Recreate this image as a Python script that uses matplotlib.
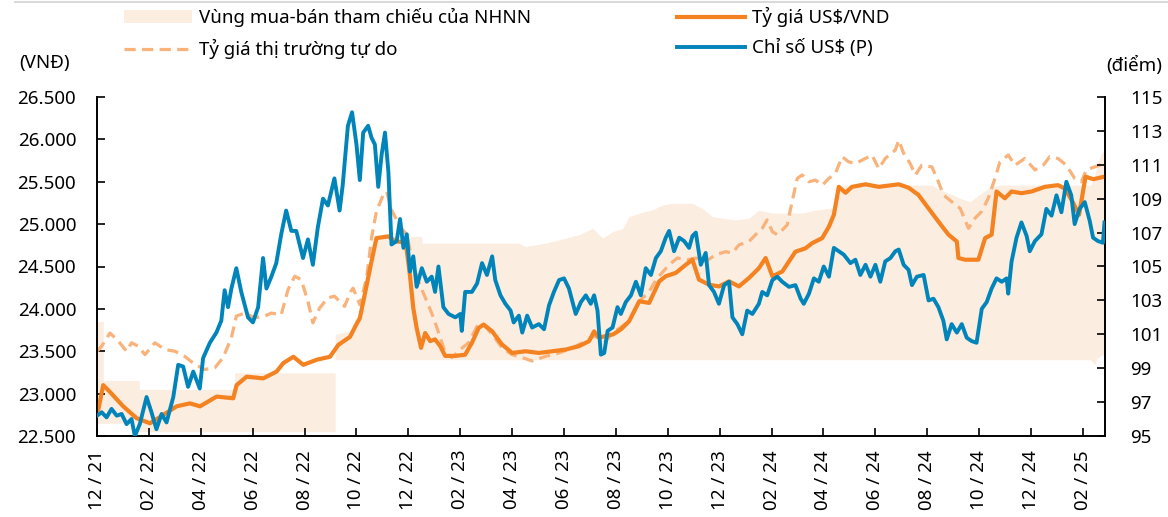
import matplotlib
matplotlib.use("Agg")
import matplotlib.pyplot as plt
from matplotlib.lines import Line2D
from matplotlib.patches import Patch
from matplotlib.ticker import FuncFormatter

# time axis = months since 12/2021
tick_pos = list(range(0, 39, 2))
tick_labels = ["12 / 21", "02 / 22", "04 / 22", "06 / 22", "08 / 22", "10 / 22",
               "12 / 22", "02 / 23", "04 / 23", "06 / 23", "08 / 23", "10 / 23",
               "12 / 23", "02 / 24", "04 / 24", "06 / 24", "08 / 24", "10 / 24",
               "12 / 24", "02 / 25"]

# reference buy-sell band of the SBV (VND)
band_t = [0, 0.24, 0.24, 1.63, 1.63, 5.31, 5.31, 9.18, 9.18, 9.9, 10.13, 10.32, 10.58,
          10.77, 12.52, 12.53, 16.26, 16.5, 17.29, 17.81, 18.58, 19.1, 19.49, 19.87,
          20.26, 20.51, 20.9, 21.41, 21.79, 22.18, 22.95, 23.33, 23.72, 24.1, 24.62,
          25.13, 25.51, 26.03, 27.18, 27.69, 28.21, 28.4, 28.6, 28.85, 32.2, 32.43,
          32.82, 33.27, 33.65, 34.0, 34.4, 34.8, 38.3, 38.45, 38.55, 38.7, 38.85]
band_hi = [23850, 23850, 23155, 23155, 23050, 23050, 23245, 23245, 23700, 23750, 23890,
           24170, 24560, 24855, 24855, 24775, 24775, 24735, 24775, 24815, 24875, 24950,
           24835, 24910, 24950, 25090, 25130, 25170, 25225, 25245, 25245, 25185, 25090,
           25070, 25050, 25070, 25165, 25130, 25130, 25165, 25185, 25190, 25440, 25460,
           25460, 25410, 25365, 25305, 25265, 25345, 25430, 25460, 25460, 25560, 25700,
           25830, 25870]
band_lo = [22650, 22650, 22650, 22650, 22550, 22550, 22550, 22550, 23400, 23400, 23400,
           23400, 23400, 23400, 23400, 23400, 23400, 23400, 23400, 23400, 23400, 23400,
           23400, 23400, 23400, 23400, 23400, 23400, 23400, 23400, 23400, 23400, 23400,
           23400, 23400, 23400, 23400, 23400, 23400, 23400, 23400, 23400, 23400, 23400,
           23400, 23400, 23400, 23400, 23400, 23400, 23400, 23400, 23400, 23340, 23420,
           23450, 23460]

# official US$/VND rate
usd_t = [0.0, 0.05, 0.24, 0.5, 1.01, 1.53, 2.04, 2.56, 3.07, 3.58, 3.97, 4.61, 5.25, 5.38,
         5.77, 6.41, 6.92, 7.18, 7.57, 7.95, 8.47, 8.98, 9.3, 9.75, 10.0, 10.13, 10.32,
         10.58, 10.77, 11.23, 11.48, 11.9, 12.06, 12.19, 12.32, 12.49, 12.65, 12.84,
         13.03, 13.23, 13.42, 13.81, 14.19, 14.45, 14.71, 14.9, 15.23, 15.61, 16.0,
         16.52, 17.03, 17.55, 18.06, 18.58, 18.97, 19.16, 19.35, 19.61, 19.9, 20.2,
         20.51, 20.9, 21.28, 21.67, 21.92, 22.31, 22.69, 22.95, 23.2, 23.59, 23.97,
         24.36, 24.74, 25.13, 25.51, 25.77, 26.03, 26.41, 26.92, 27.31, 27.56, 27.95,
         28.21, 28.4, 28.59, 28.85, 29.1, 29.62, 30.13, 30.9, 31.28, 31.66, 32.05,
         32.43, 32.82, 33.14, 33.2, 33.46, 33.97, 34.23, 34.48, 34.67, 34.99, 35.25,
         35.63, 36.02, 36.53, 37.04, 37.3, 37.6, 37.85, 38.1, 38.4, 38.83]
usd_v = [22800, 22810, 23100, 23020, 22850, 22710, 22650, 22750, 22850, 22885, 22850,
         22965, 22945, 23100, 23200, 23180, 23260, 23360, 23435, 23340, 23400, 23435,
         23575, 23670, 23820, 23890, 24170, 24560, 24835, 24855, 24800, 24780, 24400,
         24010, 23775, 23540, 23715, 23620, 23640, 23560, 23445, 23445, 23460, 23600,
         23775, 23815, 23735, 23580, 23480, 23500, 23480, 23500, 23520, 23560, 23620,
         23735, 23660, 23680, 23700, 23760, 23855, 24090, 24070, 24325, 24385, 24425,
         24520, 24580, 24345, 24285, 24265, 24325, 24265, 24365, 24480, 24600, 24385,
         24440, 24675, 24715, 24775, 24835, 24970, 25110, 25440, 25370, 25440, 25470,
         25440, 25470, 25430, 25345, 25185, 25030, 24875, 24795, 24600, 24580, 24580,
         24835, 24875, 25385, 25305, 25385, 25365, 25385, 25440, 25460, 25420, 25265,
         25110, 25560, 25530, 25560]

# free market rate
free_t = [0.0, 0.18, 0.5, 0.82, 1.14, 1.33, 1.59, 1.85, 2.23, 2.62, 3.0, 3.38, 3.77, 4.15,
          4.54, 4.86, 5.18, 5.37, 5.69, 6.08, 6.46, 6.72, 7.1, 7.36, 7.62, 7.87, 8.13,
          8.32, 8.58, 8.9, 9.15, 9.54, 9.79, 9.87, 10.13, 10.39, 10.58, 10.77, 11.03,
          11.16, 11.35, 11.68, 11.94, 12.13, 12.39, 12.71, 12.97, 13.23, 13.42, 13.68,
          14.0, 14.32, 14.65, 14.9, 15.23, 15.61, 16.0, 16.39, 16.77, 17.29, 17.81,
          18.32, 18.84, 19.16, 19.61, 19.87, 20.51, 20.9, 21.28, 21.6, 22.05, 22.37,
          22.76, 23.08, 23.46, 23.85, 24.23, 24.49, 24.74, 25.13, 25.38, 25.64, 25.83,
          26.03, 26.22, 26.41, 26.6, 26.79, 26.99, 27.18, 27.44, 27.69, 27.95, 28.21,
          28.46, 28.72, 28.97, 29.23, 29.49, 29.87, 30.13, 30.38, 30.77, 30.9, 31.09,
          31.34, 31.54, 31.79, 32.18, 32.43, 32.62, 32.94, 33.27, 33.59, 33.84, 34.1,
          34.35, 34.61, 34.8, 35.12, 35.38, 35.76, 36.15, 36.47, 36.72, 37.04, 37.36,
          37.68, 37.94, 38.13, 38.45, 38.83]
free_v = [23500, 23560, 23715, 23620, 23500, 23600, 23560, 23460, 23600, 23520, 23500,
          23440, 23345, 23285, 23305, 23425, 23660, 23915, 23950, 23895, 23915, 23950,
          23930, 24225, 24385, 24345, 24090, 23835, 24010, 24130, 24150, 24030, 24210,
          24245, 24050, 24365, 24835, 25150, 25345, 25385, 25170, 24970, 24875, 24600,
          24325, 24090, 23895, 23660, 23480, 23425, 23520, 23600, 23795, 23815, 23700,
          23540, 23460, 23425, 23385, 23440, 23480, 23540, 23620, 23680, 23620, 23715,
          23855, 24090, 24205, 24365, 24520, 24600, 24580, 24600, 24560, 24640, 24675,
          24660, 24755, 24795, 24875, 24950, 25050, 24910, 24875, 24930, 24990, 25265,
          25540, 25580, 25500, 25520, 25460, 25540, 25600, 25795, 25735, 25715, 25755,
          25815, 25655, 25775, 25875, 25990, 25835, 25715, 25580, 25695, 25675, 25500,
          25345, 25265, 25185, 24950, 25070, 25150, 25305, 25540, 25735, 25815, 25695,
          25775, 25640, 25695, 25795, 25775, 25695, 25540, 25500, 25640, 25675, 25715]

# US dollar index (right axis)
dxy_t = [0.0, 0.18, 0.37, 0.56, 0.76, 0.95, 1.14, 1.33, 1.46, 1.65, 1.91, 2.1, 2.29, 2.49,
         2.68, 2.94, 3.13, 3.32, 3.51, 3.71, 3.96, 4.09, 4.35, 4.6, 4.79, 4.92, 5.05,
         5.18, 5.37, 5.56, 5.82, 6.01, 6.21, 6.4, 6.53, 6.72, 6.91, 7.1, 7.29, 7.49,
         7.68, 7.94, 8.13, 8.32, 8.51, 8.71, 8.9, 9.15, 9.35, 9.47, 9.67, 9.83, 10.0,
         10.13, 10.26, 10.45, 10.58, 10.71, 10.84, 10.97, 11.1, 11.23, 11.35, 11.55,
         11.68, 11.81, 11.94, 12.06, 12.19, 12.32, 12.52, 12.71, 12.9, 13.03, 13.16,
         13.35, 13.55, 13.81, 14.0, 14.06, 14.19, 14.45, 14.65, 14.84, 15.03, 15.23,
         15.35, 15.55, 15.74, 15.94, 16.06, 16.26, 16.39, 16.58, 16.77, 17.03, 17.23,
         17.42, 17.61, 17.81, 18.0, 18.19, 18.45, 18.65, 18.84, 19.03, 19.16, 19.29,
         19.42, 19.55, 19.68, 19.87, 20.06, 20.19, 20.38, 20.58, 20.77, 20.96, 21.15,
         21.35, 21.54, 21.73, 21.92, 22.05, 22.24, 22.44, 22.63, 22.82, 22.95, 23.08,
         23.27, 23.46, 23.59, 23.78, 23.97, 24.17, 24.36, 24.49, 24.68, 24.87, 25.06,
         25.26, 25.51, 25.64, 25.83, 26.03, 26.22, 26.41, 26.67, 26.92, 27.12, 27.24,
         27.44, 27.63, 27.82, 28.01, 28.21, 28.4, 28.59, 28.78, 29.04, 29.23, 29.42,
         29.62, 29.81, 30.0, 30.19, 30.38, 30.58, 30.77, 30.9, 31.09, 31.28, 31.41,
         31.6, 31.86, 32.05, 32.24, 32.43, 32.62, 32.75, 32.94, 33.14, 33.33, 33.52,
         33.71, 33.9, 34.1, 34.29, 34.48, 34.67, 34.87, 35.06, 35.12, 35.25, 35.44,
         35.63, 35.83, 35.95, 36.15, 36.4, 36.59, 36.79, 36.98, 37.17, 37.36, 37.55,
         37.68, 37.87, 38.07, 38.26, 38.39, 38.58, 38.77, 38.83]
dxy_v = [96.2, 96.4, 96.1, 96.6, 96.2, 96.3, 95.7, 96.0, 95.0, 95.7, 97.3, 96.4, 95.4,
         96.3, 95.8, 97.3, 99.2, 99.1, 97.9, 98.8, 97.8, 99.6, 100.5, 101.1, 101.8, 103.6,
         102.6, 103.7, 104.9, 103.5, 102.0, 101.7, 102.6, 105.5, 103.7, 104.4, 105.2,
         106.9, 108.3, 107.1, 107.1, 105.5, 106.6, 105.1, 107.3, 109.0, 108.6, 110.2,
         108.3, 109.8, 113.3, 114.1, 112.2, 110.1, 112.9, 113.3, 112.6, 112.2, 109.7,
         111.6, 112.9, 110.6, 106.3, 106.5, 107.8, 106.1, 106.9, 104.7, 105.6, 103.8,
         104.9, 104.1, 104.4, 103.5, 105.0, 102.6, 102.2, 102.0, 102.2, 101.2, 103.5,
         103.5, 104.0, 105.2, 104.5, 105.6, 104.2, 103.3, 102.8, 102.4, 101.7, 102.1,
         101.1, 102.1, 101.4, 101.6, 101.3, 102.7, 103.5, 104.2, 104.3, 103.7, 102.2,
         102.9, 103.3, 102.8, 103.3, 102.4, 99.8, 99.9, 101.2, 101.4, 102.6, 102.2, 102.9,
         103.3, 104.1, 103.3, 104.9, 104.5, 105.5, 105.9, 106.7, 107.1, 105.9, 106.7,
         106.5, 106.1, 106.8, 107.0, 105.1, 105.8, 103.9, 103.5, 102.8, 103.9, 104.1,
         102.0, 101.6, 101.0, 102.4, 102.2, 102.8, 103.5, 103.3, 104.2, 104.4, 104.1,
         103.8, 103.9, 103.1, 102.8, 103.4, 104.3, 104.1, 105.0, 104.4, 106.1, 105.9,
         105.7, 105.2, 105.4, 104.5, 105.1, 104.4, 105.1, 104.1, 105.3, 105.5, 105.9,
         106.0, 105.1, 104.8, 103.9, 104.4, 104.5, 103.0, 103.1, 102.6, 101.8, 100.7,
         101.6, 101.1, 101.6, 100.8, 100.6, 100.5, 102.5, 102.9, 103.7, 104.3, 104.1,
         104.3, 103.4, 105.3, 106.7, 107.6, 106.8, 105.9, 106.5, 106.9, 108.4, 108.0,
         109.2, 108.2, 110.0, 109.2, 107.5, 108.4, 108.8, 107.7, 106.7, 106.5, 106.4,
         107.6]

ORANGE = "#F58220"
LIGHT_ORANGE = "#F8B27A"
BLUE = "#0084BA"
BAND = "#FCEDE1"

plt.rcParams["font.family"] = ["Noto Sans", "DejaVu Sans"]
plt.rcParams["font.size"] = 13.5

fig = plt.figure(figsize=(11.68, 5.17), dpi=100)
ax = fig.add_axes([97 / 1168, 81 / 517, 1008 / 1168, 339 / 517])
ax2 = ax.twinx()

ax.fill_between(band_t, band_lo, band_hi, color=BAND, lw=0, zorder=1)
ax.plot(free_t, free_v, color=LIGHT_ORANGE, lw=2.3, dashes=(3.5, 2), zorder=2)
ax.plot(usd_t, usd_v, color=ORANGE, lw=3.0, zorder=3)
ax2.plot(dxy_t, dxy_v, color=BLUE, lw=2.8, zorder=4)

ax.set_xlim(0, 38.85)
ax.set_ylim(22500, 26500)
ax2.set_ylim(95, 115)
ax.set_yticks(range(22500, 26501, 500))
ax2.set_yticks(range(95, 116, 2))
ax.yaxis.set_major_formatter(FuncFormatter(lambda v, p: f"{int(v):,}".replace(",", ".")))
ax.set_xticks(tick_pos)
ax.set_xticklabels(tick_labels, rotation=90)

for a in (ax, ax2):
    a.spines["top"].set_visible(False)
    for s in ("left", "right", "bottom"):
        a.spines[s].set_linewidth(1.2)
ax.tick_params(axis="y", direction="in", length=6, width=1.2, pad=15)
ax.tick_params(axis="x", direction="in", length=6, width=1.2, pad=10)
ax2.tick_params(axis="y", direction="in", length=6, width=1.2, pad=18)

fig.text(45 / 1168, 1 - 63 / 517, "(VNĐ)", ha="center", va="center")
fig.text(1134 / 1168, 1 - 65 / 517, "(điểm)", ha="center", va="center")

# thin grey rule on top
fig.add_artist(Line2D([15 / 1168, 1], [1 - 1.5 / 517] * 2, color="#d9d9d9", lw=1.5))

handles = [Patch(facecolor=BAND, edgecolor="none"),
           Line2D([], [], color=LIGHT_ORANGE, lw=2.3, dashes=(3.5, 2)),
           Line2D([], [], color=ORANGE, lw=3.0),
           Line2D([], [], color=BLUE, lw=2.8)]
labels = ["Vùng mua-bán tham chiếu của NHNN", "Tỷ giá thị trường tự do",
          "Tỷ giá US$/VND", "Chỉ số US$ (P)"]
fig.legend(handles, labels, ncol=2, loc="upper left", bbox_to_anchor=(124 / 1168, 1 - 7 / 517),
           frameon=False, handlelength=3.6, handletextpad=0.4, columnspacing=7.8,
           labelspacing=0.65, borderpad=0, borderaxespad=0)

fig.savefig("out.png", dpi=100)
